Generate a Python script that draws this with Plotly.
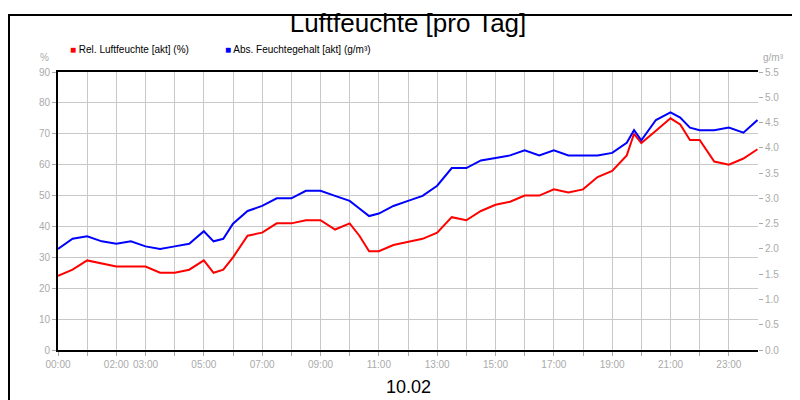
import plotly.graph_objects as go

times = ["00:00","00:30","01:00","01:30","02:00","02:30","03:00","03:30","04:00","04:30","05:00","05:20","05:40","06:00","06:30","07:00","07:30","08:00","08:30","09:00","09:30","10:00","10:20","10:40","11:00","11:30","12:00","12:30","13:00","13:30","14:00","14:30","15:00","15:30","16:00","16:30","17:00","17:30","18:00","18:30","19:00","19:30","19:45","20:00","20:30","21:00","21:20","21:40","22:00","22:30","23:00","23:30","23:59"]
rel = [24,26,29,28,27,27,27,25,25,26,29,25,26,30,37,38,41,41,42,42,39,41,37,32,32,34,35,36,38,43,42,45,47,48,50,50,52,51,52,56,58,63,70,67,71,75,73,68,68,61,60,62,65]
absf = [2.0,2.2,2.25,2.15,2.1,2.15,2.05,2.0,2.05,2.1,2.35,2.15,2.2,2.5,2.75,2.85,3.0,3.0,3.15,3.15,3.05,2.95,2.8,2.65,2.7,2.85,2.95,3.05,3.25,3.6,3.6,3.75,3.8,3.85,3.95,3.85,3.95,3.85,3.85,3.85,3.9,4.1,4.35,4.15,4.55,4.7,4.6,4.4,4.35,4.35,4.4,4.3,4.55]
tick_labels = ["00:00","","02:00","03:00","","05:00","","07:00","","09:00","","11:00","","13:00","","15:00","","17:00","","19:00","","21:00","","23:00"]

xm = [int(t[:2])*60+int(t[3:]) for t in times]
fig = go.Figure()
fig.add_trace(go.Scatter(x=xm, y=rel, mode="lines", line=dict(color="#ff0000", width=2), yaxis="y"))
fig.add_trace(go.Scatter(x=xm, y=absf, mode="lines", line=dict(color="#0000ff", width=2), yaxis="y2"))
gray = "#aaaaaa"
tf = dict(size=10, color=gray)
fig.update_layout(
    width=800, height=400, paper_bgcolor="white", plot_bgcolor="white", showlegend=False,
    margin=dict(l=50, r=50, t=64, b=58, autoexpand=False),
    font=dict(family="Liberation Sans, Arial", size=11, color=gray),
    title=dict(text="Luftfeuchte [pro Tag]", x=0.5, y=0.985, yanchor="top", font=dict(size=26, color="black")),
    xaxis=dict(range=[0, 1440], tickvals=[i*60 for i in range(24)], ticktext=tick_labels, tickangle=0, tickfont=tf,
               showgrid=True, gridcolor="#c8c8c8", ticks="outside", ticklen=4, tickcolor=gray, automargin=False,
               showline=True, linecolor="black", linewidth=2, mirror=True, zeroline=False),
    yaxis=dict(range=[0, 90], dtick=10, showgrid=True, gridcolor="#c8c8c8", ticks="outside", ticklen=4, tickfont=tf,
               tickcolor=gray, showline=True, linecolor="black", linewidth=2, zeroline=False, automargin=False),
    yaxis2=dict(range=[0, 5.5], dtick=0.5, tickformat=".1f", overlaying="y", side="right", showgrid=False, tickfont=tf,
                ticks="outside", ticklen=4, tickcolor=gray, zeroline=False, automargin=False),
    shapes=[dict(type="rect", xref="paper", yref="paper", x0=-49/700, x1=749/700, y0=-57/278, y1=335/278,
                 line=dict(color="black", width=2))],
)
ann = [
    dict(text="%", x=-0.01, y=1.025, xref="paper", yref="paper", xanchor="right", yanchor="bottom", showarrow=False, font=dict(color=gray, size=10)),
    dict(text="g/m³", x=1.005, y=1.025, xref="paper", yref="paper", xanchor="left", yanchor="bottom", showarrow=False, font=dict(color=gray, size=10)),
    dict(text="10.02", x=0.5, y=-0.09, xref="paper", yref="paper", showarrow=False, yanchor="top", font=dict(size=18, color="black")),
    dict(text="<span style='color:#ff0000'>■</span> Rel. Luftfeuchte [akt] (%)", x=10/700, y=1.055, xref="paper", yref="paper", xanchor="left", yanchor="bottom", showarrow=False, font=dict(color="black", size=10)),
    dict(text="<span style='color:#0000ff'>■</span> Abs. Feuchtegehalt [akt] (g/m³)", x=165/700, y=1.055, xref="paper", yref="paper", xanchor="left", yanchor="bottom", showarrow=False, font=dict(color="black", size=10)),
]
fig.update_layout(annotations=ann)
fig.write_html("out.html")
